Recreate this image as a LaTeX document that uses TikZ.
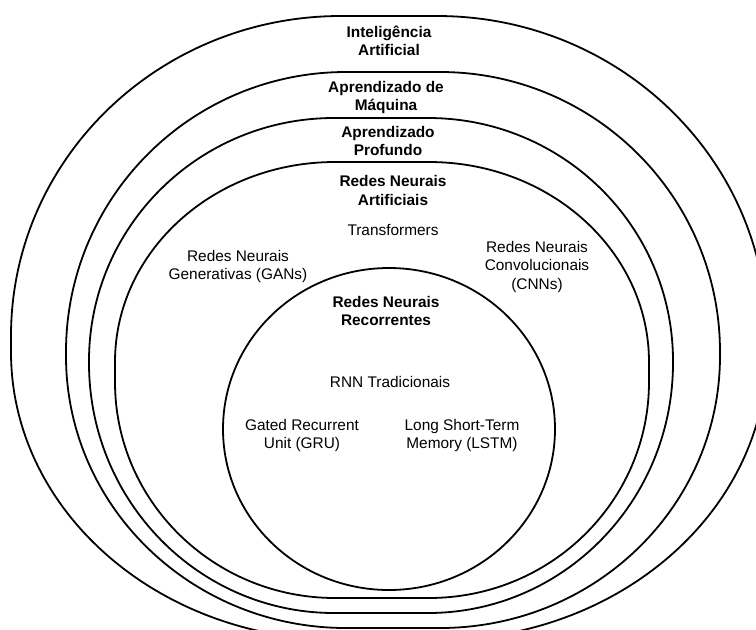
\documentclass[tikz,border=0pt]{standalone}
\usepackage{fontspec}
\setmainfont{Liberation Sans}
% L T R B rx_top ry_top rx_bottom ry_bottom  (pixel units, y down)
\newcommand{\regionshape}[8]{%
  \draw[region] ({#1+#5},#2) -- ({#3-#5},#2)
    .. controls ({#3-0.4477*#5},#2) and (#3,{#2+0.4477*#6}) .. (#3,{#2+#6})
    -- (#3,{#4-#8})
    .. controls (#3,{#4-0.4477*#8}) and ({#3-0.4477*#7},#4) .. ({#3-#7},#4)
    -- ({#1+#7},#4)
    .. controls ({#1+0.4477*#7},#4) and (#1,{#4-0.4477*#8}) .. (#1,{#4-#8})
    -- (#1,{#2+#6})
    .. controls (#1,{#2+0.4477*#6}) and ({#1+0.4477*#5},#2) .. cycle;}
\begin{document}
\begin{tikzpicture}[x=1pt,y=-1pt,
  region/.style={draw=black,line width=1.8pt},
  lbl/.style={align=center,inner sep=0pt,text=black,font=\fontsize{15.4}{18.8}\selectfont},
  ttl/.style={lbl,font=\fontsize{15.4}{18.8}\selectfont\bfseries}]
\useasboundingbox (0,0) rectangle (756,630);
\begin{scope}
\clip (0,0) rectangle (756,630);
\regionshape{11}{16}{767}{640}{330}{320}{330}{288}
\regionshape{66}{72}{720}{628}{280}{280}{280}{272}
\regionshape{89}{118}{673}{613}{245}{243}{245}{250}
\regionshape{115}{162}{649}{598}{220}{200}{220}{216}
\regionshape{223}{268}{555}{590}{166}{161}{166}{161}
\end{scope}
\node[ttl] (ia) at (389,42.7) {\strut Inteligência\\Artificial\strut};
\node[ttl] (am) at (386,97.7) {\strut Aprendizado de\\Máquina\strut};
\node[ttl] (ap) at (388,142.7) {\strut Aprendizado\\Profundo\strut};
\node[ttl] (rna) at (393,192.2) {\strut Redes Neurais\\Artificiais\strut};
\node[lbl] (tr) at (393,232.2) {\strut Transformers};
\node[lbl] (gan) at (238,266.7) {\strut Redes Neurais\\Generativas (GANs)\strut};
\node[lbl] (cnn) at (537,267.2) {\strut Redes Neurais\\Convolucionais\\(CNNs)\strut};
\node[ttl] (rnn) at (386,312.7) {\strut Redes Neurais\\Recorrentes\strut};
\node[lbl] (trad) at (390,384.2) {\strut RNN Tradicionais};
\node[lbl] (gru) at (302,435.7) {\strut Gated Recurrent\\Unit (GRU)\strut};
\node[lbl] (lstm) at (462,435.7) {\strut Long Short-Term\\Memory (LSTM)\strut};
\end{tikzpicture}
\end{document}
